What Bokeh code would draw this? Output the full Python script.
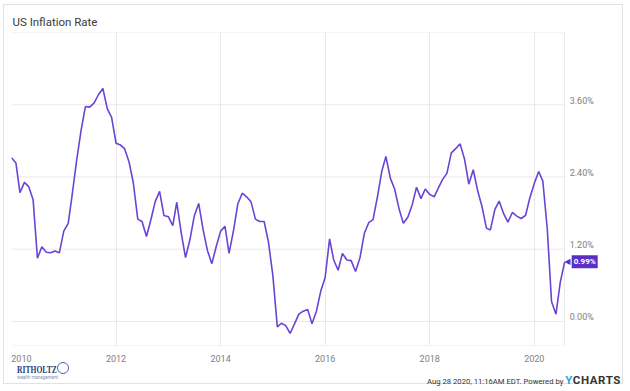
import calendar
from datetime import date

from bokeh.plotting import figure
from bokeh.models import Range1d, FixedTicker, CustomJSTickFormatter, Label, Div
from bokeh.layouts import column
from bokeh.core.properties import value
from bokeh.embed import file_html
from bokeh.resources import INLINE

# ---- data: US CPI year-over-year (%), monthly, first value = Dec 2009 ----
start_year, start_month = 2009, 12
cpi_yoy = [
    2.72,
    2.63, 2.14, 2.31, 2.24, 2.02, 1.05, 1.24, 1.15, 1.14, 1.17, 1.14, 1.50,
    1.63, 2.11, 2.68, 3.16, 3.57, 3.56, 3.63, 3.77, 3.87, 3.53, 3.39, 2.96,
    2.93, 2.87, 2.65, 2.30, 1.70, 1.66, 1.41, 1.69, 1.99, 2.16, 1.76, 1.74,
    1.59, 1.98, 1.47, 1.06, 1.36, 1.75, 1.96, 1.52, 1.18, 0.96, 1.24, 1.50,
    1.58, 1.13, 1.51, 1.95, 2.13, 2.07, 1.99, 1.70, 1.66, 1.66, 1.32, 0.76,
    -0.09, -0.03, -0.07, -0.20, -0.04, 0.12, 0.17, 0.20, -0.04, 0.17, 0.50, 0.73,
    1.37, 1.02, 0.85, 1.13, 1.02, 1.01, 0.83, 1.06, 1.46, 1.64, 1.69, 2.07,
    2.50, 2.74, 2.38, 2.20, 1.87, 1.63, 1.73, 1.94, 2.23, 2.04, 2.20, 2.11,
    2.07, 2.21, 2.36, 2.46, 2.80, 2.87, 2.95, 2.70, 2.28, 2.52, 2.18, 1.91,
    1.55, 1.52, 1.86, 2.00, 1.79, 1.65, 1.81, 1.75, 1.71, 1.76, 2.05, 2.29,
    2.49, 2.33, 1.54, 0.33, 0.12, 0.65, 0.99,
]
x_tick_years = [2010, 2012, 2014, 2016, 2018, 2020]
y_ticks = [0.0, 1.2, 2.4, 3.6]
y_limits = [-0.40, 4.80]
title_text = "US Inflation Rate"
stamp_text = "Aug 28 2020, 11:16AM EDT. Powered by "
brand_text = "RITHOLTZ"
brand_sub = "wealth management"

LINE_COLOR = "#6a44d4"
TAG_COLOR = "#5a30c4"
GRID_COLOR = "#e9e9e9"
FONT = "Roboto"
W = 620            # card content width
PLOT_PX = 555      # width of the bordered plotting area
FRAME_PX = 610     # frame also holds the right-hand value labels and tag


def month_end_frac(y, m):
    last = calendar.monthrange(y, m)[1]
    doy = (date(y, m, last) - date(y, 1, 1)).days + 1
    ndays = 366 if calendar.isleap(y) else 365
    return y + doy / ndays


xs = []
yy, mm = start_year, start_month
for _ in cpi_yoy:
    xs.append(month_end_frac(yy, mm))
    mm += 1
    if mm > 12:
        mm = 1
        yy += 1

x0, x1 = xs[0], xs[-1]
x_end = x1 + (x1 - x0) * (FRAME_PX - PLOT_PX) / PLOT_PX

p = figure(
    width=W, height=360,
    x_range=Range1d(x0, x_end),
    y_range=Range1d(*y_limits),
    y_axis_location=None,
    output_backend="svg",
    toolbar_location=None,
    min_border_left=7, min_border_right=W - 7 - FRAME_PX,
    min_border_top=27, min_border_bottom=20,
    title=title_text,
)
p.background_fill_color = "white"
p.border_fill_color = "white"
p.outline_line_color = None

p.title.text_font = FONT
p.title.text_font_size = "11.5px"
p.title.text_font_style = "normal"
p.title.text_color = "#3a3a3a"
p.title.standoff = 7
p.title.offset = 1

# horizontal grid lines and top/bottom border of the plotting area
h_levels = y_ticks + y_limits
p.segment(x0=[x0] * len(h_levels), x1=[x1] * len(h_levels), y0=h_levels, y1=h_levels,
          line_color=GRID_COLOR, line_width=1)

# vertical grid lines (the first / last act as the side borders)
p.xgrid.ticker = FixedTicker(ticks=x_tick_years + [x1])
p.xgrid.grid_line_color = GRID_COLOR
p.ygrid.visible = False

p.line(xs, cpi_yoy, line_color=LINE_COLOR, line_width=1.6)

# x axis: first label nudged inside the frame like the original
first_shift = 0.19
axis_ticks = [t + first_shift if t == x_tick_years[0] else t for t in x_tick_years]
ax = p.xaxis[0]
ax.ticker = FixedTicker(ticks=axis_ticks)
ax.formatter = CustomJSTickFormatter(code="return Math.round(tick).toString();")
ax.axis_line_color = None
ax.major_tick_line_color = None
ax.minor_tick_line_color = None
ax.major_label_text_font = FONT
ax.major_label_text_font_size = "9px"
ax.major_label_text_color = "#808080"
ax.major_label_standoff = 3

# right-hand value labels (sit just above their grid lines, as in the original)
p.text(x=[x1] * len(y_ticks), y=y_ticks, text=[f"{v:.2f}%" for v in y_ticks],
       x_offset=5, y_offset=-4, text_baseline="middle", text_align="left",
       text_font=value(FONT), text_font_size="9px", text_color="#808080")

# last-value tag
last_x, last_y = xs[-1], cpi_yoy[-1]
p.add_layout(Label(x=last_x, y=last_y, text="\u25c0", text_color=TAG_COLOR,
                   text_font="DejaVu Sans", text_font_size="8px",
                   text_baseline="middle", text_align="left", x_offset=-0.5))
p.add_layout(Label(x=last_x, y=last_y, text=f"{last_y:.2f}%", text_color="white",
                   text_font=FONT, text_font_size="8px", text_font_style="bold",
                   text_baseline="middle", text_align="left", x_offset=7,
                   background_fill_color=TAG_COLOR, padding=2))

footer_html = f"""
<div style="position:relative;width:{W}px;height:20px;font-family:Roboto,sans-serif;">
  <div style="position:absolute;left:8px;top:-4px;font-family:'Liberation Serif',serif;font-weight:bold;
              font-size:9.5px;line-height:9px;color:#2a3b73;transform:scaleX(0.8);transform-origin:left;">{brand_text}</div>
  <div style="position:absolute;left:48px;top:-8px;width:12px;height:12px;border:1.5px solid #4a66a8;border-radius:50%;"></div>
  <div style="position:absolute;left:8px;top:5px;font-size:4.5px;line-height:5px;color:#8090b0;">{brand_sub}</div>
  <div style="position:absolute;right:8px;top:3px;font-size:7.7px;line-height:14px;color:#333;white-space:nowrap;">
    {stamp_text}<span style="font-weight:bold;font-size:11.5px;letter-spacing:0.6px;"><span style="color:#2ea6e0;">Y</span>CHARTS</span>
  </div>
</div>
"""
footer = Div(text=footer_html, width=W, height=20)

layout = column(p, footer, spacing=0, width=W, height=380, sizing_mode="fixed",
                styles={"border": "1px solid #e2e2e2", "margin-left": "3px", "margin-top": "4px"})

with open("out.html", "w") as f:
    f.write(file_html(layout, INLINE))
